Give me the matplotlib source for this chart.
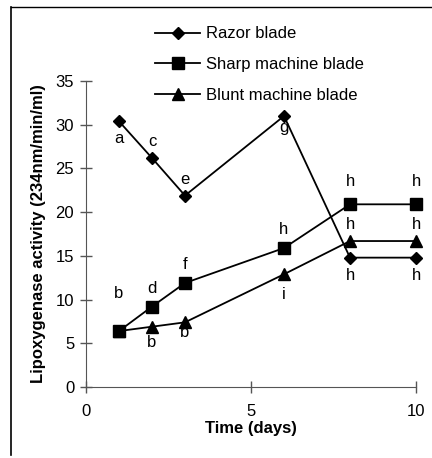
import matplotlib
matplotlib.use("Agg")
import matplotlib.pyplot as plt
from matplotlib.lines import Line2D

plt.rcParams['font.family'] = ['Liberation Sans', 'DejaVu Sans']

days = [1, 2, 3, 6, 8, 10]
razor = [30.4, 26.2, 21.9, 31.0, 14.8, 14.8]
sharp = [6.4, 9.2, 11.9, 15.9, 20.9, 20.9]
blunt = [6.4, 6.9, 7.4, 12.9, 16.7, 16.7]
series_names = ["Razor blade", "Sharp machine blade", "Blunt machine blade"]

razor_letters = ["a", "c", "e", "g", "h", "h"]
sharp_letters = ["b", "d", "f", "h", "h", "h"]
blunt_letters = ["", "b", "b", "i", "h", "h"]

# letter offsets (in data units) relative to the point
razor_off = [(0, -2.0), (0, 1.9), (0, 1.8), (0, -1.3), (0, -2.0), (0, -2.0)]
sharp_off = [(0, 4.3), (0, 2.1), (0, 2.1), (0, 2.1), (0, 2.6), (0, 2.6)]
blunt_off = [(0, 0), (0, -1.8), (0, -1.2), (0, -2.3), (0, 1.9), (0, 1.9)]

fig = plt.figure(figsize=(4.32, 4.58), dpi=100)
ax = fig.add_axes([0.199, 0.155, 0.764, 0.668])

kw = dict(color="black", lw=1.3, clip_on=False, zorder=3)
ax.plot(days, razor, marker="D", ms=6, **kw)
ax.plot(days, sharp, marker="s", ms=9, **kw)
ax.plot(days, blunt, marker="^", ms=8.5, **kw)

for vals, lets, offs in [(razor, razor_letters, razor_off),
                         (sharp, sharp_letters, sharp_off),
                         (blunt, blunt_letters, blunt_off)]:
    for d, v, l, (dx, dy) in zip(days, vals, lets, offs):
        if l:
            ax.text(d + dx, v + dy, l, ha="center", va="center", fontsize=12, zorder=4)

ax.set_xlim(0, 10)
ax.set_ylim(0, 35)
ax.set_xticks([0, 5, 10])
ax.set_yticks([0, 5, 10, 15, 20, 25, 30, 35])
ax.spines['top'].set_visible(False)
ax.spines['right'].set_visible(False)
ax.spines['left'].set_color("#555555")
ax.spines['bottom'].set_color("#555555")
ax.tick_params(axis='y', direction='inout', length=9, width=1, labelsize=12, pad=4, color="#555555")
ax.tick_params(axis='x', direction='inout', length=8, width=1, labelsize=12, pad=8, color="#555555")
ax.set_xlabel("Time (days)", fontsize=12, fontweight="bold", labelpad=2)
ax.set_ylabel("Lipoxygenase activity (234nm/min/ml)", fontsize=12, fontweight="bold", labelpad=7)

handles = [Line2D([], [], color="black", lw=1.3, marker=m, ms=s)
           for m, s in [("D", 6), ("s", 9), ("^", 8.5)]]
fig.legend(handles, series_names, loc="upper left", bbox_to_anchor=(0.325, 0.975),
           frameon=False, fontsize=12, handlelength=2.7, handletextpad=0.35,
           labelspacing=0.95)

# figure border (left and top)
fig.add_artist(Line2D([0.026, 0.026], [0.006, 0.985], color="black", lw=1.2))
fig.add_artist(Line2D([0.026, 1.0], [0.985, 0.985], color="black", lw=1.0))

fig.savefig("out.png", dpi=100)
